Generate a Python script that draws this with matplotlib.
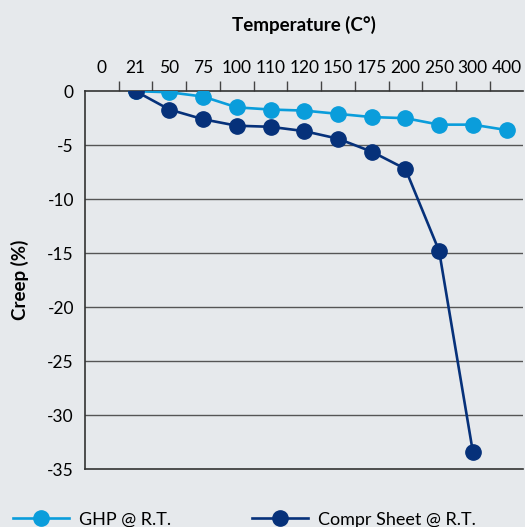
import matplotlib.pyplot as plt
import numpy as np

plt.rcParams['font.family'] = ['Lato', 'DejaVu Sans']

# categories on the top axis (equally spaced)
temps = ['0', '21', '50', '75', '100', '110', '120', '150', '175', '200', '250', '300', '400']

# creep values, starting at 21 C
ghp_temps = ['21', '50', '75', '100', '110', '120', '150', '175', '200', '250', '300', '400']
ghp_creep = [0, -0.1, -0.5, -1.5, -1.7, -1.8, -2.1, -2.4, -2.5, -3.1, -3.1, -3.6]

sheet_temps = ['21', '50', '75', '100', '110', '120', '150', '175', '200', '250', '300']
sheet_creep = [0, -1.7, -2.6, -3.2, -3.3, -3.7, -4.4, -5.6, -7.2, -14.8, -33.4]

bg = '#e6e9ec'
light = '#0a9ddb'
dark = '#06317a'

fig = plt.figure(figsize=(5.25, 5.27), dpi=100, facecolor=bg)
ax = fig.add_axes([0.162, 0.110, 0.835, 0.717], facecolor=bg)

pos = {t: i for i, t in enumerate(temps)}
xg = [pos[t] for t in ghp_temps]
xs = [pos[t] for t in sheet_temps]

ax.plot(xg, ghp_creep, color=light, lw=1.9, marker='o', ms=11, label='GHP @ R.T.', zorder=3)
ax.plot(xs, sheet_creep, color=dark, lw=1.9, marker='o', ms=11, label='Compr Sheet @ R.T.', zorder=4)

ax.set_xlim(-0.5, len(temps) - 0.5)
ax.set_ylim(-35, 0)

# category labels at centers, tick marks at boundaries
ax.xaxis.tick_top()
ax.set_xticks(range(len(temps)))
ax.set_xticklabels(temps)
ax.tick_params(axis='x', which='major', length=0, pad=11, labelsize=12.5)
ax.set_xticks(np.arange(0.5, len(temps) - 1, 1), minor=True)
ax.tick_params(axis='x', which='minor', length=7, width=1, color='#444444', direction='out')
ax.xaxis.set_label_position('top')
ax.set_xlabel('Temperature (C°)', fontsize=13.5, fontweight='bold', labelpad=21)

yt = np.arange(0, -36, -5)
ax.set_yticks(yt)
ax.set_yticklabels([str(v) for v in yt])
ax.tick_params(axis='y', length=0, pad=8, labelsize=12.5)
ax.set_ylabel('Creep (%)', fontsize=13.5, fontweight='bold', labelpad=13)

for v in yt[1:-1]:
    ax.axhline(v, color='#555555', lw=1, zorder=1)

ax.spines['right'].set_visible(False)
for s in ['left', 'top', 'bottom']:
    ax.spines[s].set_color('#333333')
    ax.spines[s].set_linewidth(1.2)

fig.legend(loc='center left', bbox_to_anchor=(0.025, 0.014), ncol=2, frameon=False,
           fontsize=13, handlelength=3.1, handletextpad=0.55, columnspacing=4.5,
           borderaxespad=0, borderpad=0)

fig.savefig('out.png', dpi=100, facecolor=bg)
